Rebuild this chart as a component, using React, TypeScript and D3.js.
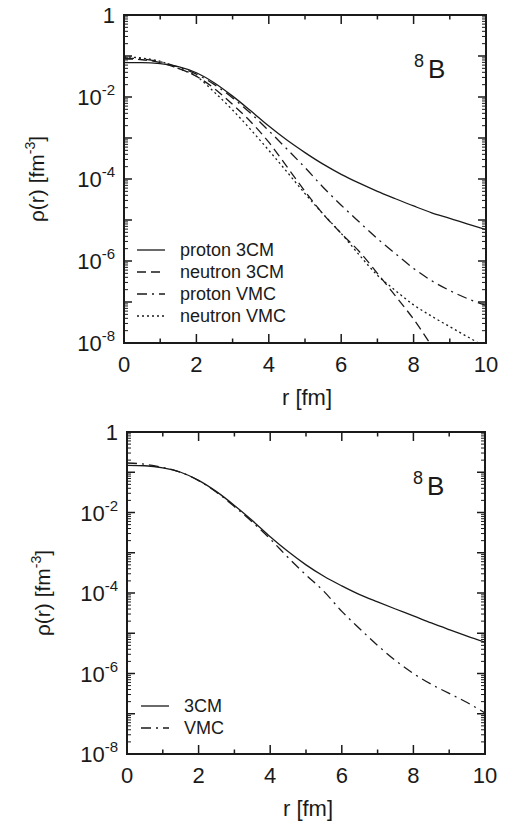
import React from 'react';
import * as d3 from 'd3';

// radial grid (fm)
const R = [0, 0.5, 1, 1.5, 2, 2.5, 3, 3.5, 4, 4.5, 5, 5.5, 6, 6.5, 7, 7.5, 8, 8.5, 9, 9.5, 10];

// upper panel: proton / neutron densities (fm^-3)
const PROTON_3CM = [6.9e-2, 6.9e-2, 6.5e-2, 5.5e-2, 3.9e-2, 2.2e-2, 1.05e-2, 4.6e-3, 1.95e-3, 8.9e-4, 4.4e-4,
  2.3e-4, 1.3e-4, 7.9e-5, 5.0e-5, 3.3e-5, 2.2e-5, 1.5e-5, 1.1e-5, 7.9e-6, 5.8e-6];
const NEUTRON_3CM = [8.5e-2, 8.1e-2, 6.9e-2, 5.0e-2, 3.2e-2, 1.6e-2, 6.6e-3, 2.5e-3, 7.9e-4, 2.0e-4, 5.0e-5,
  1.4e-5, 4.7e-6, 1.7e-6, 5.0e-7, 1.4e-7, 3.8e-8, 8.5e-9, null, null, null];
const PROTON_VMC = [8.9e-2, 8.5e-2, 7.2e-2, 5.4e-2, 3.6e-2, 2.0e-2, 9.5e-3, 4.0e-3, 1.5e-3, 5.4e-4, 1.9e-4,
  6.3e-5, 2.3e-5, 8.9e-6, 3.5e-6, 1.5e-6, 6.6e-7, 3.3e-7, 1.9e-7, 1.2e-7, 8.3e-8];
const NEUTRON_VMC = [9.5e-2, 8.9e-2, 7.4e-2, 5.0e-2, 3.2e-2, 1.3e-2, 4.8e-3, 1.6e-3, 5.0e-4, 1.5e-4, 4.4e-5,
  1.4e-5, 4.7e-6, 1.4e-6, 4.5e-7, 1.9e-7, 8.5e-8, 4.5e-8, 2.5e-8, 1.4e-8, 7.9e-9];

// lower panel: matter densities
const MATTER_3CM = [0.148, 0.145, 0.129, 0.100, 6.3e-2, 3.3e-2, 1.5e-2, 6.3e-3, 2.5e-3, 1.07e-3, 5.0e-4,
  2.6e-4, 1.5e-4, 9.1e-5, 6.0e-5, 4.0e-5, 2.7e-5, 1.8e-5, 1.23e-5, 8.5e-6, 6.0e-6];
const MATTER_VMC = [0.17, 0.158, 0.132, 0.100, 6.2e-2, 3.2e-2, 1.4e-2, 5.8e-3, 2.2e-3, 7.6e-4, 2.8e-4,
  1.1e-4, 3.5e-5, 1.3e-5, 5.0e-6, 2.1e-6, 1.0e-6, 5.4e-7, 3.2e-7, 1.9e-7, 1.05e-7];

const X_TICKS = [0, 2, 4, 6, 8, 10];
const X_MINOR = [1, 3, 5, 7, 9];
const Y_LABELS = [1, 1e-2, 1e-4, 1e-6, 1e-8];
const Y_DECADES = [1e-8, 1e-7, 1e-6, 1e-5, 1e-4, 1e-3, 1e-2, 1e-1, 1];

const TOP_NAMES = ['proton 3CM', 'neutron 3CM', 'proton VMC', 'neutron VMC'];
const BOTTOM_NAMES = ['3CM', 'VMC'];

const SOLID = 'none';
const DASHED = '9,5';
const DASHDOT = '10,5,2,5';
const DOTTED = '2,3';

const FONT = '"Liberation Sans", Arial, sans-serif';

type Series = { values: (number | null)[]; dash: string; name: string };

function Panel({ id, left, right, top, bottom, series, legendX, legendY, labelX }: any) {
  const x = d3.scaleLinear().domain([0, 10]).range([left, right]);
  const y = d3.scaleLog().domain([1e-8, 1]).range([bottom, top]);
  const line = d3.line<[number, number | null]>()
    .defined(d => d[1] != null)
    .x(d => x(d[0]))
    .y(d => y(d[1] as number))
    .curve(d3.curveMonotoneX);

  const minors: number[] = [];
  Y_DECADES.slice(0, -1).forEach(dec => {
    for (let k = 2; k <= 9; k++) minors.push(dec * k);
  });

  const cx = (left + right) / 2;
  const cy = (top + bottom) / 2;

  return (
    <g fontFamily={FONT} fill="#1a1a1a">
      <defs>
        <clipPath id={id}>
          <rect x={left} y={top} width={right - left} height={bottom - top} />
        </clipPath>
      </defs>
      <g clipPath={`url(#${id})`}>
        {series.map((s: Series, i: number) => (
          <path key={i} d={line(R.map((r, j) => [r, s.values[j]]) as any) || ''}
            fill="none" stroke="#1a1a1a" strokeWidth={1.3}
            strokeDasharray={s.dash === SOLID ? undefined : s.dash} />
        ))}
      </g>
      {/* ticks */}
      <g stroke="#1a1a1a" strokeWidth={1.5}>
        {X_TICKS.map(t => (
          <g key={'xm' + t}>
            <line x1={x(t)} x2={x(t)} y1={bottom} y2={bottom - 9} />
            <line x1={x(t)} x2={x(t)} y1={top} y2={top + 9} />
          </g>
        ))}
        {X_MINOR.map(t => (
          <g key={'xn' + t}>
            <line x1={x(t)} x2={x(t)} y1={bottom} y2={bottom - 4.5} />
            <line x1={x(t)} x2={x(t)} y1={top} y2={top + 4.5} />
          </g>
        ))}
        {Y_DECADES.map(t => (
          <g key={'ym' + t}>
            <line x1={left} x2={left + 8} y1={y(t)} y2={y(t)} />
            <line x1={right} x2={right - 8} y1={y(t)} y2={y(t)} />
          </g>
        ))}
      </g>
      <g stroke="#1a1a1a" strokeWidth={1}>
        {minors.map((t, i) => (
          <g key={'yn' + i}>
            <line x1={left} x2={left + 4} y1={y(t)} y2={y(t)} />
            <line x1={right} x2={right - 4} y1={y(t)} y2={y(t)} />
          </g>
        ))}
      </g>
      <rect x={left} y={top} width={right - left} height={bottom - top}
        fill="none" stroke="#1a1a1a" strokeWidth={2} />
      {/* tick labels */}
      {X_TICKS.map(t => (
        <text key={'xl' + t} x={x(t)} y={bottom + 29} fontSize={22} textAnchor="middle">{t}</text>
      ))}
      {Y_LABELS.map(v => {
        const e = Math.round(Math.log10(v));
        return (
          <text key={'yl' + v} x={left - 9} y={y(v) + 8} fontSize={22} textAnchor="end">
            {e === 0 ? '1' : <>10<tspan fontSize={15} dy={-10}>{e}</tspan></>}
          </text>
        );
      })}
      <text x={cx + 2} y={bottom + 62} fontSize={22} textAnchor="middle">r [fm]</text>
      <text transform={`translate(${labelX},${cy}) rotate(-90)`} fontSize={21} textAnchor="middle">
        ρ(r) [fm<tspan fontSize={14} dy={-9}>-3</tspan><tspan dy={9}>]</tspan>
      </text>
      {/* nucleus tag */}
      <text x={right - 72} y={top + 52} fontSize={18}>8</text>
      <text x={right - 58} y={top + 63} fontSize={26}>B</text>
      {/* legend */}
      {series.map((s: Series, i: number) => (
        <g key={'lg' + i}>
          <line x1={legendX} x2={legendX + 28} y1={legendY + i * 22} y2={legendY + i * 22}
            stroke="#1a1a1a" strokeWidth={1.3} strokeDasharray={s.dash === SOLID ? undefined : s.dash} />
          <text x={legendX + 43} y={legendY + i * 22 + 6} fontSize={18}>{s.name}</text>
        </g>
      ))}
    </g>
  );
}

export default function App() {
  const topSeries: Series[] = [
    { values: PROTON_3CM, dash: SOLID, name: TOP_NAMES[0] },
    { values: NEUTRON_3CM, dash: DASHED, name: TOP_NAMES[1] },
    { values: PROTON_VMC, dash: DASHDOT, name: TOP_NAMES[2] },
    { values: NEUTRON_VMC, dash: DOTTED, name: TOP_NAMES[3] },
  ];
  const bottomSeries: Series[] = [
    { values: MATTER_3CM, dash: SOLID, name: BOTTOM_NAMES[0] },
    { values: MATTER_VMC, dash: DASHDOT, name: BOTTOM_NAMES[1] },
  ];
  return (
    <svg width={512} height={825} style={{ position: 'absolute', left: 0, top: 0, background: '#fff' }}>
      <rect width={512} height={825} fill="#fff" />
      <Panel id="clipTop" left={124} right={486} top={15} bottom={343}
        series={topSeries} legendX={137} legendY={250} labelX={44} />
      <Panel id="clipBottom" left={127} right={485} top={432} bottom={754}
        series={bottomSeries} legendX={141} legendY={706} labelX={50} />
    </svg>
  );
}
